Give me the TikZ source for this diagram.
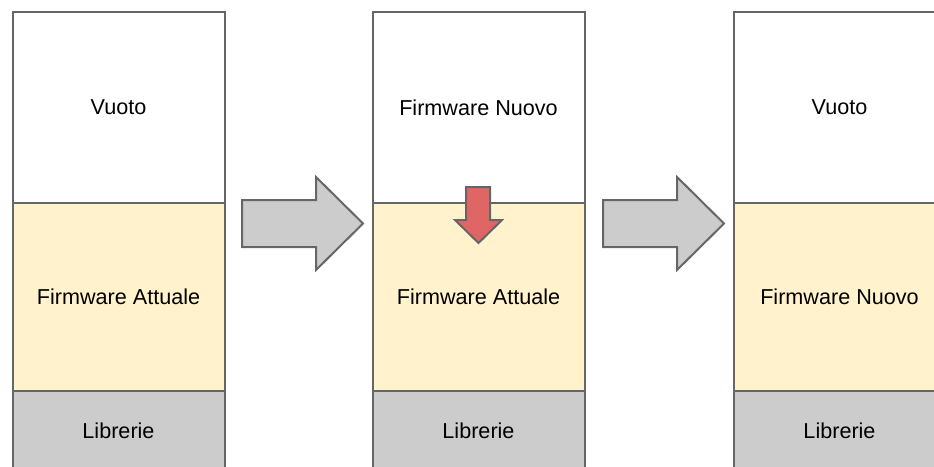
\documentclass[tikz,border=0pt]{standalone}
\usepackage{fontspec}
\setmainfont{Liberation Sans}
\definecolor{edge}{HTML}{666666}
\definecolor{cream}{HTML}{FFF2CC}
\definecolor{libgray}{HTML}{CCCCCC}
\definecolor{redfill}{HTML}{E06666}
\begin{document}
\begin{tikzpicture}[x=1pt,y=-1pt,
  cell/.style={draw=edge,line width=2pt,minimum width=212pt,anchor=north west,inner sep=0pt,
    font=\fontsize{21.6}{24}\selectfont,text=black},
  empty/.style={cell,fill=white,minimum height=191pt},
  fw/.style={cell,fill=cream,minimum height=188pt},
  lib/.style={cell,fill=libgray,minimum height=80pt},
  bigarrow/.style={draw=edge,line width=2pt,fill=libgray,line join=miter},
  redarrow/.style={draw=edge,line width=2pt,fill=redfill,line join=miter}]
\useasboundingbox (0,0) rectangle (934,466);
\clip (0,0) rectangle (934,466);
% first stage
\node[empty] (e1) at (11.5,11) {Vuoto};
\node[fw] (f1) at (11.5,202) {Firmware Attuale};
\node[lib] (l1) at (11.5,390) {Librerie};
% second stage
\node[empty] (e2) at (371.5,11) {Firmware Nuovo};
\node[fw] (f2) at (371.5,202) {Firmware Attuale};
\node[lib] (l2) at (371.5,390) {Librerie};
% third stage
\node[empty] (e3) at (732.5,11) {Vuoto};
\node[fw] (f3) at (732.5,202) {Firmware Nuovo};
\node[lib] (l3) at (732.5,390) {Librerie};
% transition arrows
\draw[bigarrow] (242,200) -- (316,200) -- (316,177) -- (363,223.5) -- (316,270) -- (316,247) -- (242,247) -- cycle;
\draw[bigarrow] (603,200) -- (677,200) -- (677,177) -- (724,223.5) -- (677,270) -- (677,247) -- (603,247) -- cycle;
% new firmware written over the current one
\draw[redarrow] (466,187) -- (490,187) -- (490,220) -- (502,220) -- (478.5,243) -- (455,220) -- (466,220) -- cycle;
\end{tikzpicture}
\end{document}
